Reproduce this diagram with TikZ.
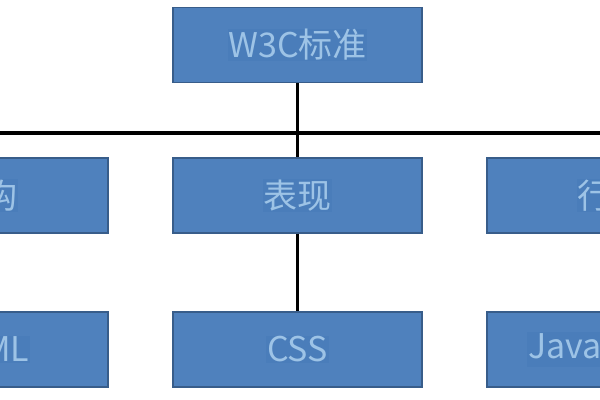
\documentclass[tikz,border=0pt]{standalone}
\usepackage{fontspec}
\setmainfont{Noto Sans CJK SC}
\definecolor{boxblue}{HTML}{4F81BD}
\definecolor{boxedge}{HTML}{385D8A}
\definecolor{hlblue}{HTML}{4A7DBA}
\definecolor{txtblue}{HTML}{9DC3E6}
\newcommand{\hltext}[1]{{\setlength{\fboxsep}{0.5pt}\colorbox{hlblue}{#1}}}
\begin{document}
\begin{tikzpicture}[x=0.75pt, y=-0.75pt,
    box/.style={draw=boxedge, line width=1.1pt, fill=boxblue, text=txtblue,
                minimum width=187pt, minimum height=56pt, inner sep=0pt,
                font=\fontsize{25.5}{28}\selectfont},
    link/.style={line width=2.4pt, black}]
    % Visible window of the chart
    \useasboundingbox (0,0) rectangle (600,400);
    \clip (0,0) rectangle (600,400);

    % Root
    \node[box] (std) at (297.5,45) {\hltext{W3C标准}};

    % Second level
    \node[box] (struct) at (-16.5,195.5) {\hltext{结构}};
    \node[box] (present) at (297.5,195.5) {\hltext{表现}};
    \node[box] (behav) at (611.5,195.5) {\hltext{行为}};

    % Third level
    \node[box] (html) at (-16.5,349.5) {\hltext{HTML}};
    \node[box] (css) at (297.5,349.5) {\hltext{CSS}};
    \node[box] (js) at (611.5,349.5) {\hltext{JavaScript}};

    % Connectors
    \coordinate (bus) at (297.5,133);
    \draw[link] (std.south) -- (bus);
    \draw[link] (struct.north |- bus) -- (behav.north |- bus);
    \foreach \n in {struct, present, behav}
        \draw[link] (\n.north |- bus) -- (\n.north);
    \draw[link] (struct.south) -- (html.north);
    \draw[link] (present.south) -- (css.north);
    \draw[link] (behav.south) -- (js.north);
\end{tikzpicture}
\end{document}
